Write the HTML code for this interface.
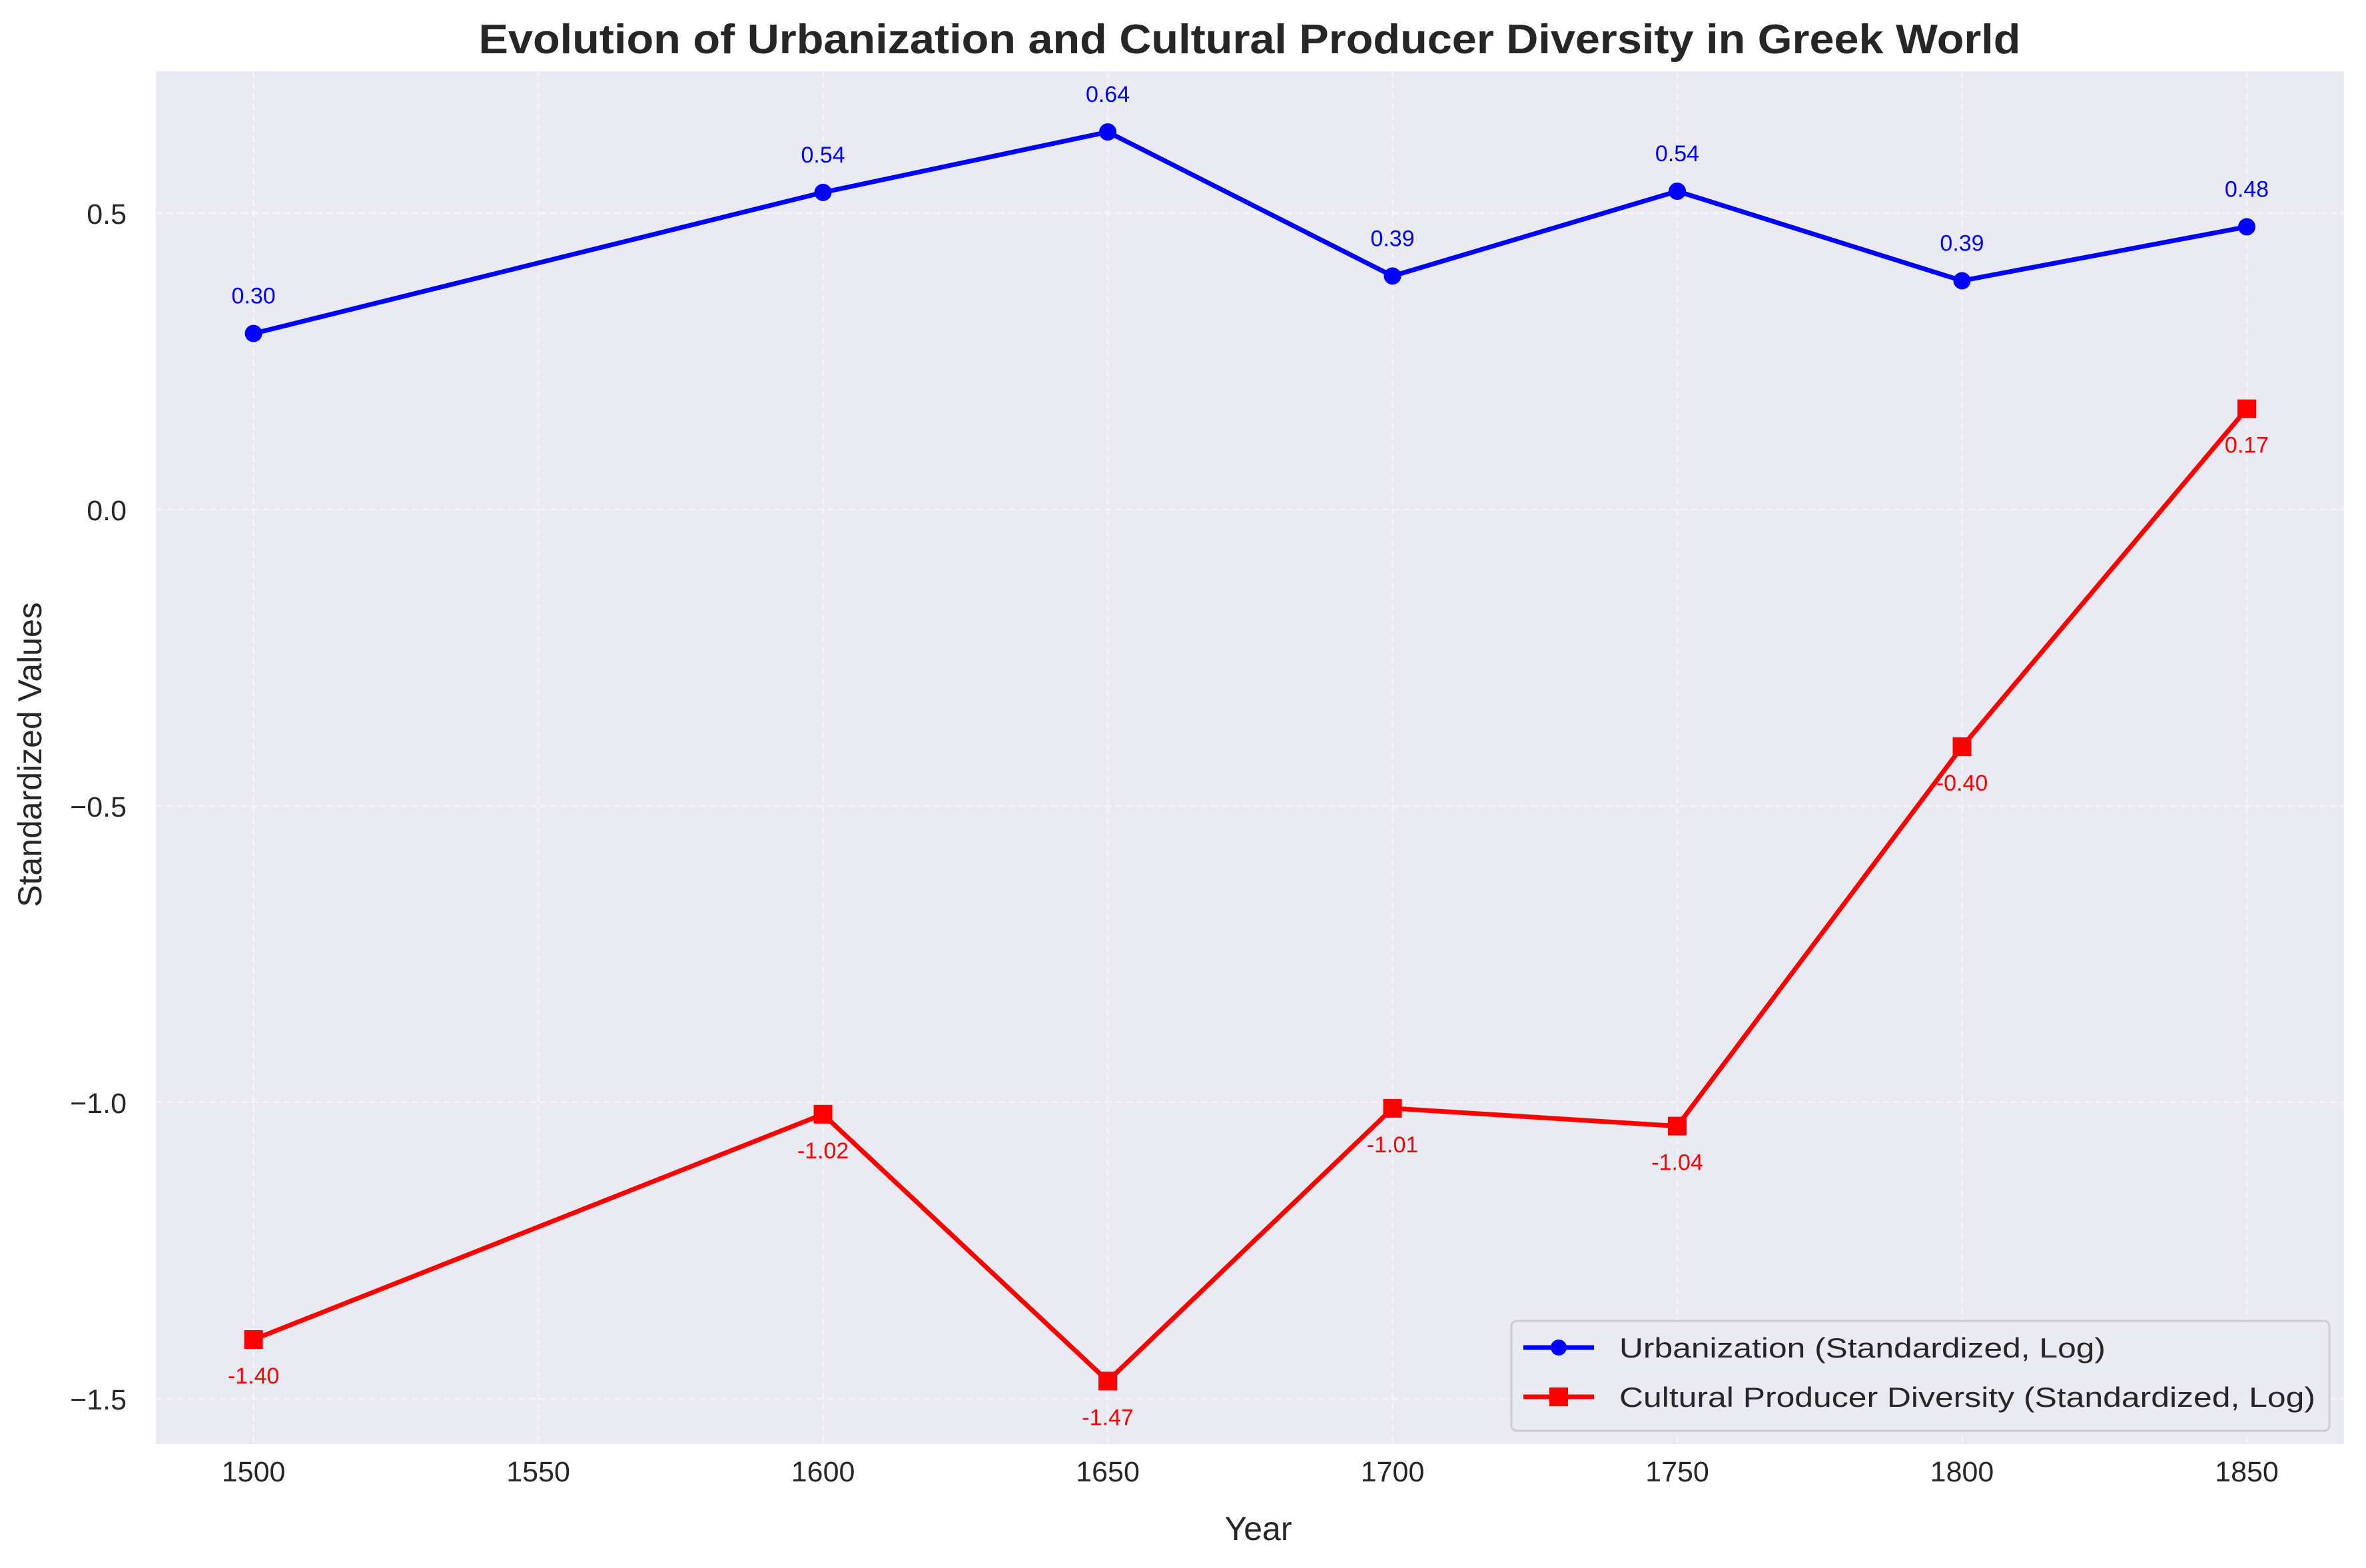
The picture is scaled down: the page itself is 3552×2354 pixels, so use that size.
<!DOCTYPE html>
<html><head><meta charset="utf-8"><style>
html,body{margin:0;padding:0;background:#fff;}
svg{display:block;font-family:"Liberation Sans",Arial,sans-serif;}
</style></head><body>
<svg id="chart" width="3552" height="2354" viewBox="0 0 3552 2354" xmlns="http://www.w3.org/2000/svg">
<rect x="0" y="0" width="3552" height="2354" fill="#ffffff"/>
<rect x="234" y="107" width="3285" height="2061" fill="#eaeaf2"/>
<g id="grid"></g>
<g id="xticks"></g>
<g id="yticks"></g>
<g id="series"></g>
<text x="1876" y="80" text-anchor="middle" font-size="62" font-weight="bold" fill="#262626" textLength="2315" lengthAdjust="spacingAndGlyphs">Evolution of Urbanization and Cultural Producer Diversity in Greek World</text>
<text x="1889" y="2312" text-anchor="middle" font-size="50" fill="#262626">Year</text>
<text transform="translate(62,1133) rotate(-90)" text-anchor="middle" font-size="50" fill="#262626">Standardized Values</text>
<g>
<rect x="2269" y="1983" width="1228" height="165" rx="8" fill="#eaeaf2" fill-opacity="0.8" stroke="#cccccc" stroke-width="3"/>
<g>
<line x1="2287" y1="2023" x2="2393" y2="2023" stroke="#0000ff" stroke-width="7"/>
<circle cx="2340" cy="2023" r="12" fill="#0000ff"/>
<text x="2431" y="2038" font-size="42" fill="#262626" textLength="730" lengthAdjust="spacingAndGlyphs">Urbanization (Standardized, Log)</text>
</g>
<g>
<line x1="2287" y1="2097" x2="2393" y2="2097" stroke="#ff0000" stroke-width="7"/>
<rect x="2326" y="2083" width="28" height="28" fill="#ff0000"/>
<text x="2431" y="2112" font-size="42" fill="#262626" textLength="1045" lengthAdjust="spacingAndGlyphs">Cultural Producer Diversity (Standardized, Log)</text>
</g>
</g>
</svg>
<script>
const years = [1500, 1600, 1650, 1700, 1750, 1800, 1850];
const urbanization = [0.297, 0.535, 0.637, 0.394, 0.537, 0.386, 0.477];
const culturalDiversity = [-1.40, -1.02, -1.47, -1.01, -1.04, -0.40, 0.17];
const xTickValues = [1500, 1550, 1600, 1650, 1700, 1750, 1800, 1850];
const yTickValues = [-1.5, -1.0, -0.5, 0.0, 0.5];
const yTickLabels = ["\u22121.5", "\u22121.0", "\u22120.5", "0.0", "0.5"];

const NS = "http://www.w3.org/2000/svg";
const PL = 234, PR = 3519, PT = 107, PB = 2168;
function xScale(v){ return 380.6 + (v - 1500) * (3373 - 380.6) / 350; }
function yScale(v){ return 765 - v * 890; }
function mk(tag, attrs, parent){
  const e = document.createElementNS(NS, tag);
  for (const k in attrs) e.setAttribute(k, attrs[k]);
  parent.appendChild(e); return e;
}
const grid = document.getElementById('grid');
const xt = document.getElementById('xticks');
const yt = document.getElementById('yticks');
const ser = document.getElementById('series');

xTickValues.forEach(v => {
  const x = xScale(v);
  const g = mk('line', {x1:x, x2:x, y1:PT, y2:PB, stroke:'#ffffff', 'stroke-width':3, 'stroke-dasharray':'11,5', opacity:0.5}, grid);
  
  
  const t = mk('text', {x:x, y:2224, 'text-anchor':'middle', 'font-size':43, fill:'#262626'}, xt);
  t.textContent = v;
  
  
});
yTickValues.forEach((v, i) => {
  const y = yScale(v);
  const g = mk('line', {x1:PL, x2:PR, y1:y, y2:y, stroke:'#ffffff', 'stroke-width':3, 'stroke-dasharray':'11,5', opacity:0.5}, grid);
  
  
  const t = mk('text', {x:190, y:y + 16, 'text-anchor':'end', 'font-size':43, fill:'#262626'}, yt);
  t.textContent = yTickLabels[i];
  
  
});

function drawSeries(vals, color, marker, name, labelOffset){
  const pts = vals.map((v, i) => xScale(years[i]) + ',' + yScale(v)).join(' ');
  const pl = mk('polyline', {points:pts, fill:'none', stroke:color, 'stroke-width':7, 'stroke-linejoin':'round'}, ser);
  
  
  vals.forEach((v, i) => {
    const x = xScale(years[i]), y = yScale(v);
    let m;
    if (marker === 'circle') m = mk('circle', {cx:x, cy:y, r:13, fill:color}, ser);
    else m = mk('rect', {x:x - 14, y:y - 14, width:28, height:28, fill:color}, ser);
    
    
    const t = mk('text', {x:x, y:y + labelOffset, 'text-anchor':'middle', 'font-size':34, fill:color}, ser);
    t.textContent = v.toFixed(2);
    
    
  });
}
drawSeries(urbanization, '#0000ff', 'circle', 'urbanization', -45);
drawSeries(culturalDiversity, '#ff0000', 'square', 'cultural-diversity', 66);
</script>
</body></html>
